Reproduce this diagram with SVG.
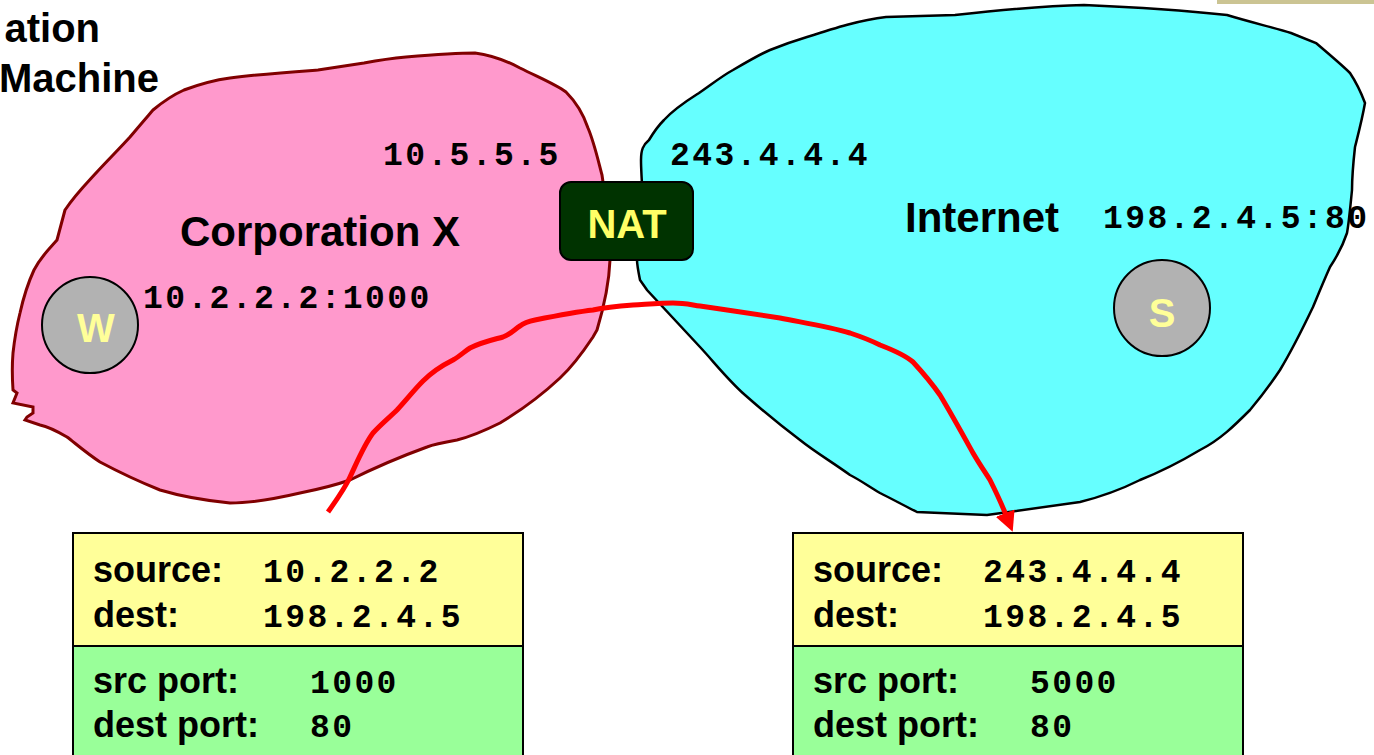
<svg xmlns="http://www.w3.org/2000/svg" width="1374" height="755" viewBox="0 0 1374 755">
  <style>
    .sans { font-family: "Liberation Sans", Arial, sans-serif; font-weight: bold; }
    .mono { font-family: "Liberation Mono", "Courier New", monospace; font-weight: bold; font-size: 33px; letter-spacing: 2.4px; fill: #000; }
    .title { font-size: 40px; fill: #000; }
    .net { font-size: 42px; fill: #000; }
    .host { fill: #B2B2B2; stroke: #000; stroke-width: 2; }
    .host-label { font-size: 40px; fill: #FFFF99; text-anchor: middle; }
    .field { font-size: 36px; fill: #000; }
    .hdr-ip { fill: #FFFF99; stroke: #000; stroke-width: 2; }
    .hdr-port { fill: #99FF99; stroke: #000; stroke-width: 2; }
    .flow { fill: none; stroke: #FF0000; stroke-width: 5; stroke-linejoin: round; stroke-linecap: butt; }
  </style>
  <defs>
    <marker id="arrow" viewBox="0 0 10 10" refX="1" refY="5" markerWidth="4" markerHeight="4" orient="auto" markerUnits="strokeWidth">
      <path d="M0,0 L10,5 L0,10 z" fill="#FF0000"/>
    </marker>
  </defs>

  <rect width="1374" height="755" fill="#FFFFFF"/>

  <!-- strip of the slide frame, top right -->
  <rect x="1217" y="0" width="157" height="4" fill="#CBC493"/>

  <!-- slide heading, clipped at the left edge -->
  <text class="sans title" x="100" y="42" text-anchor="end">ation</text>
  <text class="sans title" x="159" y="92" text-anchor="end">Machine</text>

  <!-- private network cloud -->
  <g id="corp-x">
    <path d="M475,53 C490,55 505,60 520,68 C540,78 555,84 566,92 C578,104 584,116 588,128 C594,142 598,160 602,175 C606,200 609,235 610,260 C609,285 603,310 597,330 L593,337 C583,352 573,366 560,378 C545,392 525,408 500,423 C480,433 465,438 457,440 C440,443 432,445 427,447 C405,455 380,465 350,480 C330,487 315,490 300,493 C270,500 250,503 230,503 C200,500 180,496 160,490 C135,480 115,470 100,462 C85,452 75,443 67,437 C55,430 45,426 40,425 L25,420 L27,417 L33,413 L33,407 L13,403 L17,393 L13,390 C12,375 12,365 13,353 C15,335 17,325 20,313 C24,295 28,283 34,270 C42,255 50,248 57,240 L65,210 C75,195 85,185 96,173 C108,160 120,148 130,137 C140,125 147,117 153,110 C165,100 175,94 184,90 C200,84 215,80 230,78 C260,74 290,72 318,70 L364,63 C380,60 395,58 406,57 C430,55 455,53 475,53 Z" fill="#FF99CC" stroke="#800000" stroke-width="3"/>
    <text class="sans net" x="180" y="246">Corporation X</text>
    <text class="mono" x="383" y="165">10.5.5.5</text>
  </g>

  <!-- public network cloud -->
  <g id="internet">
    <path d="M643,200 C642,185 641,170 641,160 C641,150 643,145 649,140 C655,130 660,124 664,120 C675,108 688,100 699,93 C712,84 722,76 733,70 C750,60 765,52 770,50 C785,44 797,40 807,37 C835,28 860,20 886,17 L955,15 C1000,10 1040,6 1084,5 C1130,7 1180,10 1227,15 C1250,22 1275,28 1291,33 L1316,43 C1330,55 1342,65 1350,73 C1358,85 1362,95 1365,103 C1362,120 1358,135 1355,147 C1353,165 1352,178 1352,190 C1350,210 1349,222 1347,233 C1342,248 1336,258 1330,267 C1322,285 1318,295 1313,307 C1302,330 1292,350 1280,370 C1270,385 1260,398 1250,410 C1235,425 1220,440 1200,450 C1180,462 1160,472 1140,480 C1120,490 1100,497 1080,502 L987,515 L917,512 C905,506 892,499 880,493 C868,486 860,480 850,475 C832,462 815,452 800,440 C780,425 762,410 745,395 C728,380 714,362 700,347 L647,290 L640,280 C638,270 637,265 637,260 C638,245 640,230 643,200 Z" fill="#66FFFF" stroke="#000" stroke-width="2.5"/>
    <text class="sans net" x="905" y="232">Internet</text>
    <text class="mono" x="670" y="165">243.4.4.4</text>
  </g>

  <!-- the packet's path through the translator -->
  <g id="connectors">
    <path class="flow" marker-end="url(#arrow)" d="M328,512 C338,498 345,488 350,477 C358,460 364,445 373,433 C382,423 390,417 397,410 C408,398 414,390 423,381 C433,371 443,365 453,360 C460,356 465,351 470,348 C482,342 492,340 503,337 C511,334 515,329 520,326 C525,322 530,321 535,320 C555,316 575,312 593,310 C607,307 620,306 633,305 C650,304 662,303 673,303 C685,303 692,305 700,306 C727,310 755,314 780,318 C805,323 830,327 850,333 C862,337 872,341 880,345 C893,350 905,355 913,362 C925,375 933,385 940,395 C952,415 963,435 973,453 C980,465 985,472 990,480 C997,494 1002,505 1006,515"/>
  </g>

  <!-- address translator -->
  <g id="nat">
    <rect x="560" y="182" width="133" height="78" rx="11" ry="11" fill="#003300" stroke="#000" stroke-width="2"/>
    <text class="sans" x="627" y="238" font-size="40" fill="#FFFF66" text-anchor="middle">NAT</text>
  </g>

  <!-- hosts -->
  <g id="host-w">
    <circle class="host" cx="90" cy="325" r="48"/>
    <text class="sans host-label" x="96" y="342">W</text>
    <text class="mono" x="143" y="308">10.2.2.2:1000</text>
  </g>
  <g id="host-s">
    <circle class="host" cx="1162" cy="308" r="48"/>
    <text class="sans host-label" x="1162" y="327">S</text>
    <text class="mono" x="1103" y="228">198.2.4.5:80</text>
  </g>

  <!-- packet headers before translation -->
  <g id="packet-before">
    <rect class="hdr-ip" x="73" y="533" width="450" height="113"/>
    <rect class="hdr-port" x="73" y="646" width="450" height="115"/>
    <text class="sans field" x="93" y="582">source:</text>
    <text class="sans field" x="93" y="627">dest:</text>
    <text class="mono" x="263" y="582">10.2.2.2</text>
    <text class="mono" x="263" y="627">198.2.4.5</text>
    <text class="sans field" x="93" y="693">src port:</text>
    <text class="sans field" x="93" y="737">dest port:</text>
    <text class="mono" x="310" y="693">1000</text>
    <text class="mono" x="310" y="737">80</text>
  </g>

  <!-- packet headers after translation -->
  <g id="packet-after">
    <rect class="hdr-ip" x="793" y="533" width="450" height="113"/>
    <rect class="hdr-port" x="793" y="646" width="450" height="115"/>
    <text class="sans field" x="813" y="582">source:</text>
    <text class="sans field" x="813" y="627">dest:</text>
    <text class="mono" x="983" y="582">243.4.4.4</text>
    <text class="mono" x="983" y="627">198.2.4.5</text>
    <text class="sans field" x="813" y="693">src port:</text>
    <text class="sans field" x="813" y="737">dest port:</text>
    <text class="mono" x="1030" y="693">5000</text>
    <text class="mono" x="1030" y="737">80</text>
  </g>
</svg>
